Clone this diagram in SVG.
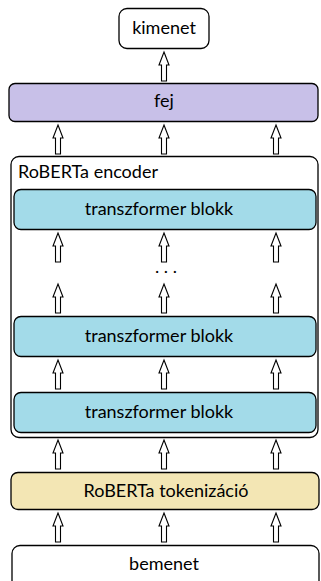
<svg xmlns="http://www.w3.org/2000/svg" width="321" height="581" viewBox="0 0 321 581">
<style>
.box{stroke:#000;stroke-width:1.3}
.t{font-family:Lato,"Open Sans","Liberation Sans",sans-serif;font-size:18px;fill:#000;text-anchor:middle}
.arr{fill:#fff;stroke:#000;stroke-width:1.1;stroke-linejoin:miter}
</style>
<defs>
<path id="a" d="M0,0 L5,13 L2.5,13 L2.5,29 L-2.5,29 L-2.5,13 L-5,13 Z"/>
</defs>
<rect width="321" height="581" fill="#fff"/>
<g id="kimenet"><rect class="box" x="119" y="8.5" width="90" height="40" rx="8" fill="#fff"/><text class="t" x="164" y="34">kimenet</text></g>
<g id="fej"><rect class="box" x="9" y="83.5" width="309" height="38" rx="6" fill="#c8c0e8"/><text class="t" x="164" y="107">fej</text></g>
<g id="encoder"><rect class="box" x="11" y="156.5" width="307" height="281" rx="8" fill="#fff"/><text class="t" x="18" y="178" style="text-anchor:start">RoBERTa encoder</text></g>
<g id="block3"><rect class="box" x="14" y="189.5" width="302" height="40" rx="7" fill="#a3dbe9"/><text class="t" x="159" y="215">transzformer blokk</text></g>
<g id="dots"><text class="t" x="166" y="273">. . .</text></g>
<g id="block2"><rect class="box" x="14" y="316.5" width="302" height="40" rx="7" fill="#a3dbe9"/><text class="t" x="159" y="342">transzformer blokk</text></g>
<g id="block1"><rect class="box" x="14" y="392.5" width="302" height="40" rx="7" fill="#a3dbe9"/><text class="t" x="159" y="418">transzformer blokk</text></g>
<g id="tokenizacio"><rect class="box" x="11" y="472.5" width="308" height="37" rx="7" fill="#f3e6b4"/><text class="t" x="166" y="497">RoBERTa tokenizáció</text></g>
<g id="bemenet"><rect class="box" x="12" y="545.5" width="307" height="45" rx="8" fill="#fff"/><text class="t" x="164" y="570">bemenet</text></g>
<g id="connectors">
<use href="#a" class="arr" x="164" y="52"/>
<use href="#a" class="arr" x="58" y="125"/>
<use href="#a" class="arr" x="164" y="125"/>
<use href="#a" class="arr" x="276" y="125"/>
<use href="#a" class="arr" x="58" y="233"/>
<use href="#a" class="arr" x="164" y="233"/>
<use href="#a" class="arr" x="276" y="233"/>
<use href="#a" class="arr" x="58" y="284"/>
<use href="#a" class="arr" x="164" y="284"/>
<use href="#a" class="arr" x="276" y="284"/>
<use href="#a" class="arr" x="58" y="360"/>
<use href="#a" class="arr" x="164" y="360"/>
<use href="#a" class="arr" x="276" y="360"/>
<use href="#a" class="arr" x="58" y="440"/>
<use href="#a" class="arr" x="164" y="440"/>
<use href="#a" class="arr" x="276" y="440"/>
<use href="#a" class="arr" x="58" y="513"/>
<use href="#a" class="arr" x="164" y="513"/>
<use href="#a" class="arr" x="276" y="513"/>
</g>
</svg>
